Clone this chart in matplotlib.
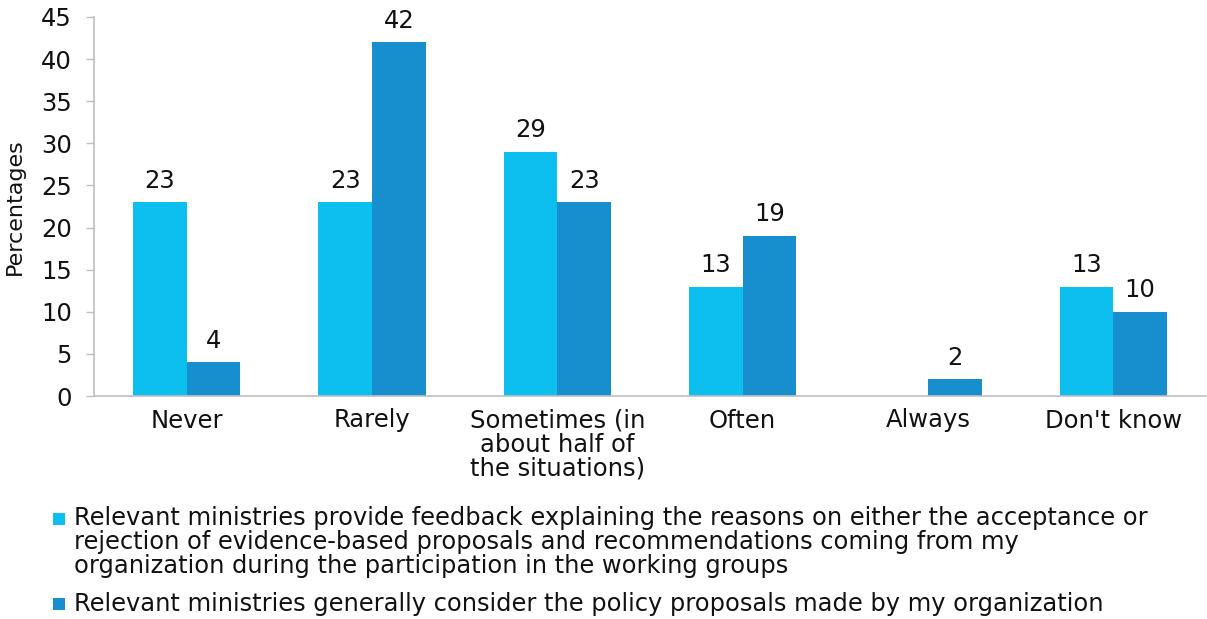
import matplotlib
matplotlib.use("Agg")
import matplotlib.pyplot as plt
from matplotlib.patches import Rectangle
import numpy as np

categories = ["Never", "Rarely", "Sometimes (in\nabout half of\nthe situations)", "Often", "Always", "Don't know"]
feedback = [23, 23, 29, 13, None, 13]
consider = [4, 42, 23, 19, 2, 10]
series_labels = [
    "Relevant ministries provide feedback explaining the reasons on either the acceptance or\nrejection of evidence-based proposals and recommendations coming from my\norganization during the participation in the working groups",
    "Relevant ministries generally consider the policy proposals made by my organization",
]
colors = ["#0DBFEE", "#178FCF"]

plt.rcParams['font.family'] = ['DejaVu Sans']
FS = 17.5
TXT = "#111111"
fig = plt.figure(figsize=(12.07, 6.19), dpi=100)
W, H = 1207, 619
ax = fig.add_axes([94 / W, 1 - 396 / H, (1206 - 94) / W, (396 - 17) / H])

x = np.arange(len(categories))
w = 0.29
for vals, off, c in [(feedback, -w / 2, colors[0]), (consider, w / 2, colors[1])]:
    xs = [xi + off for xi, v in zip(x, vals) if v is not None]
    vs = [v for v in vals if v is not None]
    ax.bar(xs, vs, width=w, color=c, linewidth=0)
    for xi, v in zip(xs, vs):
        ax.annotate(str(v), (xi, v), xytext=(0, 10.5), textcoords="offset points",
                    ha="center", va="baseline", fontsize=FS, color=TXT)

ax.set_xlim(-0.5, len(categories) - 0.5)
ax.set_ylim(0, 45)
ax.set_yticks(range(0, 46, 5))
ax.set_xticks(x)
ax.set_xticklabels(categories, fontsize=FS, linespacing=1.0, color=TXT)
ax.tick_params(axis="y", labelsize=FS, colors="#BFBFBF", labelcolor=TXT, length=6, width=1, pad=10)
ax.tick_params(axis="x", length=0, pad=9)
for s in ["top", "right"]:
    ax.spines[s].set_visible(False)
for s in ["left", "bottom"]:
    ax.spines[s].set_color("#BFBFBF")
    ax.spines[s].set_linewidth(1.2)
ax.set_ylabel("Percentages", fontsize=16, color=TXT, va="center")
ax.yaxis.set_label_coords(15 / W, 1 - 206.5 / H, transform=fig.transFigure)

# legend
baselines = [[525, 549, 573], [611]]
squares = [513, 598]
for lab, bl, sq, c in zip(series_labels, baselines, squares, colors):
    fig.patches.append(Rectangle((53 / W, 1 - (sq + 12) / H), 12 / W, 12 / H,
                                 transform=fig.transFigure, facecolor=c, edgecolor="none"))
    for line, yb in zip(lab.split("\n"), bl):
        fig.text(74 / W, 1 - yb / H, line, fontsize=17.4, va="baseline", ha="left", color=TXT)

fig.savefig("out.png", dpi=100)
